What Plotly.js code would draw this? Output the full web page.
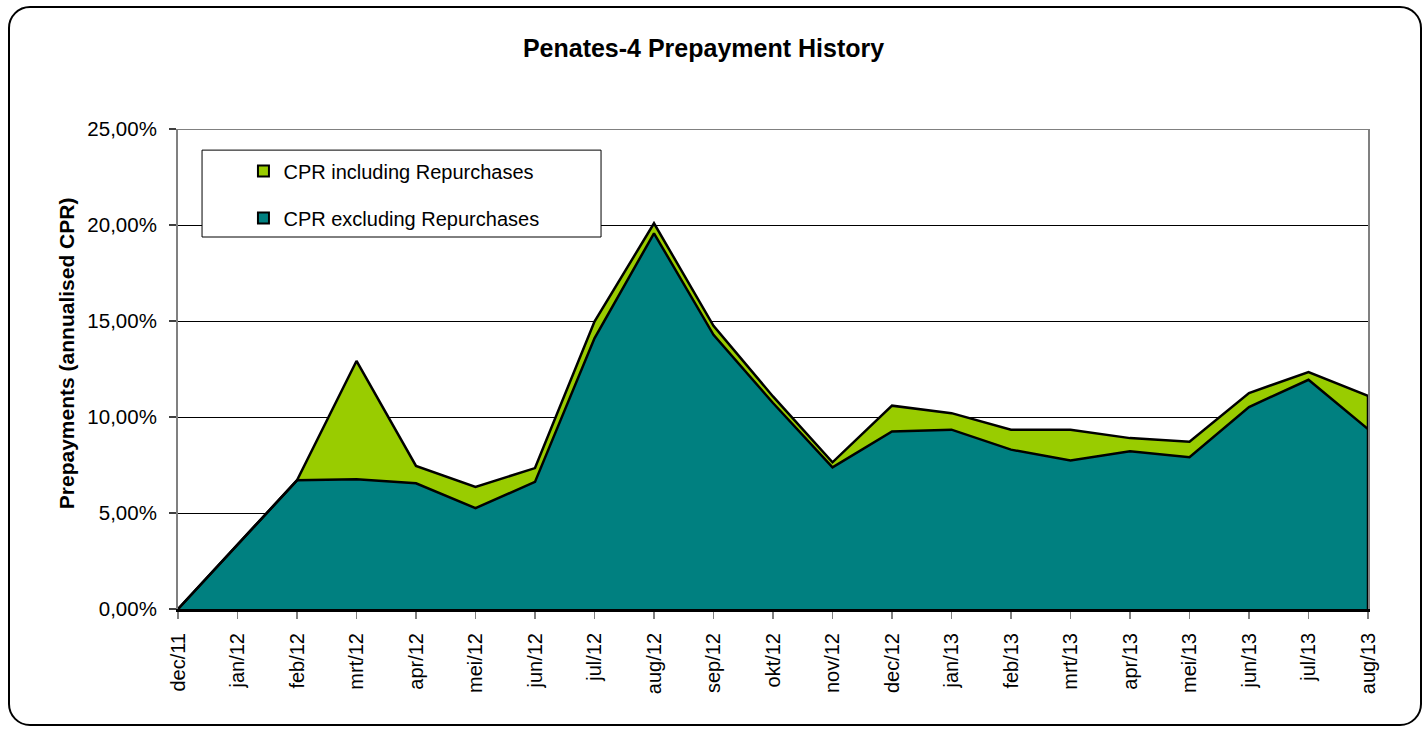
<!DOCTYPE html>
<html>
<head>
<meta charset="utf-8">
<script src="https://cdn.plot.ly/plotly-3.0.1.min.js"></script>
<style>
  html, body { margin: 0; padding: 0; background: #fff; }
  #wrap { position: relative; width: 1427px; height: 732px; }
  #chart { width: 1427px; height: 732px; }
  #frame { position: absolute; left: 8px; top: 6px; width: 1414px; height: 720px;
           border: 2px solid #000; border-radius: 22px; pointer-events: none; box-sizing: border-box; }
</style>
</head>
<body>
<div id="wrap">
  <div id="chart"></div>
  <div id="frame"></div>
</div>
<script>
const categories = ['dec/11','jan/12','feb/12','mrt/12','apr/12','mei/12','jun/12','jul/12','aug/12','sep/12','okt/12','nov/12','dec/12','jan/13','feb/13','mrt/13','apr/13','mei/13','jun/13','jul/13','aug/13'];
const cprExcluding = [0, 3.35, 6.70, 6.76, 6.55, 5.25, 6.62, 14.10, 19.57, 14.28, 10.73, 7.38, 9.25, 9.34, 8.30, 7.73, 8.21, 7.90, 10.52, 11.94, 9.37];
const cprIncluding = [0, 3.35, 6.70, 12.92, 7.45, 6.36, 7.34, 14.97, 20.09, 14.75, 11.07, 7.64, 10.59, 10.20, 9.34, 9.34, 8.90, 8.71, 11.25, 12.34, 11.10];
const seriesNames = ['CPR including Repurchases', 'CPR excluding Repurchases'];
const yTicks = [0, 5, 10, 15, 20, 25];
const yTickText = yTicks.map(v => v.toFixed(2).replace('.', ',') + '%');

const TEAL = '#008080', GREEN = '#99CC00';
const FONT = 'Arial, "Liberation Sans", sans-serif';

const traces = [
  { x: categories, y: cprExcluding, type: 'scatter', mode: 'lines', fill: 'tozeroy',
    fillcolor: TEAL, line: { color: '#000', width: 2.5 }, showlegend: false, hoverinfo: 'x+y' },
  { x: categories, y: cprIncluding, type: 'scatter', mode: 'lines', fill: 'tonexty',
    fillcolor: GREEN, line: { color: '#000', width: 2.5 }, showlegend: false, hoverinfo: 'x+y' },
  // legend entries
  { x: [null], y: [null], type: 'scatter', mode: 'markers', name: seriesNames[0], legendgroup: 'a',
    marker: { symbol: 'square', size: 11, color: GREEN, line: { color: '#000', width: 2 } } },
  { x: [null], y: [null], type: 'scatter', mode: 'markers', name: seriesNames[1], legendgroup: 'b',
    marker: { symbol: 'square', size: 11, color: TEAL, line: { color: '#000', width: 2 } } }
];

const last = categories.length - 1;
const layout = {
  width: 1427, height: 732,
  margin: { l: 178, r: 59, t: 129, b: 123 },
  paper_bgcolor: '#fff', plot_bgcolor: '#fff',
  font: { family: FONT, color: '#000', size: 20 },
  title: { text: 'Penates-4 Prepayment History', font: { family: FONT, size: 25, color: '#000', weight: 'bold' },
           x: 0.493, xanchor: 'center', y: 0.934, yanchor: 'middle', yref: 'container' },
  xaxis: {
    type: 'category', range: [0, last], tickmode: 'array', tickvals: categories, ticktext: categories,
    tickangle: -90, ticks: 'outside', ticklen: 7, tickcolor: '#808080', tickwidth: 1.5,
    showline: true, linecolor: '#000', linewidth: 3, showgrid: false, zeroline: false,
    tickfont: { family: FONT, size: 20, color: '#000' }, ticklabelstandoff: 6
  },
  yaxis: {
    range: [0, 25], tickmode: 'array', tickvals: yTicks, ticktext: yTickText,
    ticks: 'outside', ticklen: 7, tickcolor: '#404040', tickwidth: 1.5,
    showline: true, mirror: true, linecolor: '#808080', linewidth: 2,
    showgrid: true, gridcolor: '#000', gridwidth: 1, zeroline: false,
    tickfont: { family: FONT, size: 20.5, color: '#000' }, ticklabelstandoff: 8
  },
  annotations: [
    { text: 'Prepayments (annualised CPR)', xref: 'paper', yref: 'paper', x: -0.0941, y: 0.533,
      xanchor: 'center', yanchor: 'middle', textangle: -90, showarrow: false,
      font: { family: FONT, size: 21, color: '#000', weight: 'bold' } }
  ],
  legend: {
    x: 0.055, xanchor: 'left', y: 0.953, yanchor: 'top',
    bgcolor: 'rgba(0,0,0,0)', borderwidth: 0, tracegroupgap: 18,
    font: { family: FONT, size: 20, color: '#000' }, itemwidth: 30
  },
  shapes: [
    { type: 'line', xref: 'paper', yref: 'y', x0: 0, x1: 1, y0: 25, y1: 25,
      line: { color: '#808080', width: 2 } },
    { type: 'line', xref: 'x', yref: 'y', x0: categories[last], x1: categories[last], y0: 0, y1: cprIncluding[last],
      line: { color: '#000', width: 2.5 } },
    { type: 'rect', xref: 'paper', yref: 'paper', x0: 0.0202, x1: 0.3555, y0: 0.775, y1: 0.956,
      line: { color: '#000', width: 1 }, fillcolor: '#fff', layer: 'above' }
  ]
};

Plotly.newPlot('chart', traces, layout, { displayModeBar: false, staticPlot: true });
</script>
</body>
</html>
